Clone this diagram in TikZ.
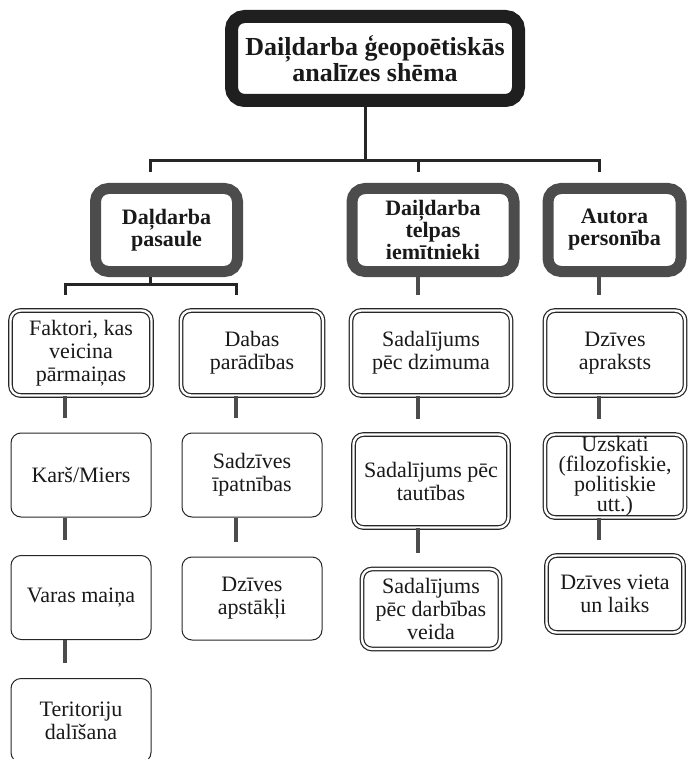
\documentclass[tikz,border=0pt]{standalone}
\usepackage{fontspec}
\setmainfont{Liberation Serif}
\usepackage{xcolor}
\usepackage{tikz}

\begin{document}
\begin{tikzpicture}[
        x=1pt, y=-1pt,
        titleNode/.style={rectangle, rounded corners=13pt, draw=black!88, line width=13pt,
        text=black!90, font=\bfseries\fontsize{26}{26}\selectfont, align=center},
        groupNode/.style={rectangle, rounded corners=13pt, draw=black!70, line width=11pt,
        minimum height=83pt, text=black!90, font=\bfseries\fontsize{22}{22}\selectfont, align=center},
        doubleNode/.style={rectangle, rounded corners=10pt, draw=black!85, line width=1.2pt,
        double=white, double distance=2.4pt, text=black!90, font=\fontsize{22}{23}\selectfont, align=center},
        plainNode/.style={rectangle, rounded corners=10pt, draw=black!85, line width=1pt,
        minimum width=140pt, text=black!90, font=\fontsize{22}{23}\selectfont, align=center},
        topLine/.style={draw=black!85, line width=3pt},
        subLine/.style={draw=black!70, line width=4.5pt, shorten >=15pt},
    ]
    \useasboundingbox (0,0) rectangle (688,759);
    \node[titleNode, minimum width=287pt, minimum height=84pt] (schema)    at (375,58.5)  {Daiļdarba ģeopoētiskās\\analīzes shēma};
    \node[groupNode, minimum width=142pt] (world)     at (166.5,230) {Daļdarba\\pasaule};
    \node[groupNode, minimum width=162pt] (dwellers)  at (433,230)   {Daiļdarba\\telpas\\iemītnieki};
    \node[groupNode, minimum width=133pt] (author)    at (614.5,230) {Autora\\personība};
    \node[doubleNode, minimum width=141pt, minimum height=85pt] (factors)   at (81,353)  {Faktori, kas\\veicina\\pārmaiņas};
    \node[doubleNode, minimum width=142pt, minimum height=85pt] (nature)    at (252,353) {Dabas\\parādības};
    \node[doubleNode, minimum width=160pt, minimum height=85pt] (gender)    at (431,353) {Sadalījums\\pēc dzimuma};
    \node[doubleNode, minimum width=140pt, minimum height=85pt] (lifeStory) at (615,353) {Dzīves\\apraksts};
    \node[plainNode, minimum height=84pt] (war)        at (81,475)    {Karš/Miers};
    \node[plainNode, minimum height=84pt] (customs)    at (252,475)   {Sadzīves\\īpatnības};
    \node[doubleNode, minimum width=155pt, minimum height=93pt] (nation)   at (431,481) {Sadalījums pēc\\tautības};
    \node[doubleNode, minimum width=140pt, minimum height=83pt, inner ysep=1pt,
        font=\fontsize{22}{20}\selectfont] (views)    at (615,476) {Uzskati\\(filozofiskie,\\politiskie\\utt.)};
    \node[plainNode, minimum height=84pt] (power)      at (81,597.5)  {Varas maiņa};
    \node[plainNode, minimum height=83pt] (conditions) at (252,598.5) {Dzīves\\apstākļi};
    \node[doubleNode, minimum width=138pt, minimum height=80pt] (activity) at (431,609) {Sadalījums\\pēc darbības\\veida};
    \node[doubleNode, minimum width=137pt, minimum height=77pt] (place)    at (615,594) {Dzīves vieta\\un laiks};
    \node[plainNode, minimum height=84pt] (territory)  at (81,720.5)  {Teritoriju\\dalīšana};
    % tree from the title
    \draw[topLine, shorten >=11pt] ([xshift=-10pt]schema.south) -- ++(0,54) -| ([xshift=-16.5pt]world.north);
    \draw[topLine, shorten >=11pt] ([xshift=-10pt]schema.south) -- ++(0,54) -| ([xshift=-15pt]dwellers.north);
    \draw[topLine, shorten >=11pt] ([xshift=-10pt]schema.south) -- ++(0,54) -| ([xshift=-15.5pt]author.north);
    \draw[topLine, shorten >=15pt] ([xshift=-16.5pt]world.south) -- ++(0,7) -| ([xshift=-16pt]factors.north);
    \draw[topLine, shorten >=15pt] ([xshift=-16.5pt]world.south) -- ++(0,7) -| ([xshift=-16pt]nature.north);
    \draw[subLine] ([xshift=-15pt]dwellers.south) -- ([xshift=-13pt]gender.north);
    \draw[subLine] ([xshift=-15.5pt]author.south) -- ([xshift=-16pt]lifeStory.north);
    % columns
    \draw[subLine] ([xshift=-16pt]factors.south)   -- ([xshift=-16pt]war.north);
    \draw[subLine] ([xshift=-16pt]war.south)       -- ([xshift=-16pt]power.north);
    \draw[subLine] ([xshift=-16pt]power.south)     -- ([xshift=-16pt]territory.north);
    \draw[subLine] ([xshift=-16pt]nature.south)    -- ([xshift=-16pt]customs.north);
    \draw[subLine] ([xshift=-16pt]customs.south)   -- ([xshift=-16pt]conditions.north);
    \draw[subLine] ([xshift=-13pt]gender.south)    -- ([xshift=-13pt]nation.north);
    \draw[subLine] ([xshift=-13pt]nation.south)    -- ([xshift=-13pt]activity.north);
    \draw[subLine] ([xshift=-16pt]lifeStory.south) -- ([xshift=-16pt]views.north);
    \draw[subLine] ([xshift=-16pt]views.south)     -- ([xshift=-16pt]place.north);
\end{tikzpicture}
\end{document}
